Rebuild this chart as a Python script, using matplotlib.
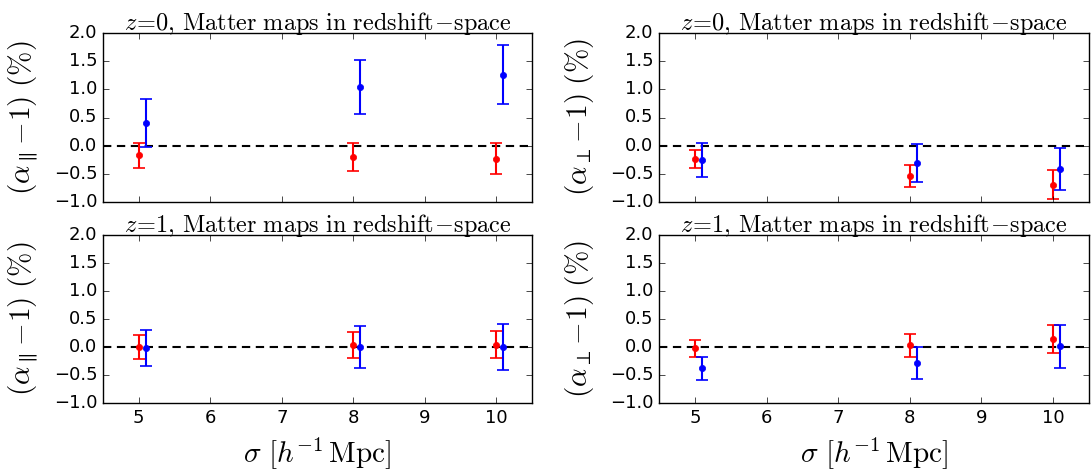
import numpy as np
import matplotlib
matplotlib.use('Agg')
import matplotlib.pyplot as plt

plt.style.use('classic')
plt.rcParams['mathtext.fontset'] = 'cm'
plt.rcParams['figure.facecolor'] = 'white'

sigma = np.array([5, 8, 10])
offset = 0.1

# top-left: z=0, alpha_par
par0_red = [-0.17, -0.20, -0.23]
par0_red_err = [0.22, 0.25, 0.27]
par0_blue = [0.40, 1.04, 1.26]
par0_blue_err = [0.43, 0.485, 0.52]

# top-right: z=0, alpha_perp
perp0_red = [-0.24, -0.54, -0.69]
perp0_red_err = [0.155, 0.20, 0.25]
perp0_blue = [-0.25, -0.31, -0.41]
perp0_blue_err = [0.30, 0.34, 0.37]

# bottom-left: z=1, alpha_par
par1_red = [0.0, 0.04, 0.04]
par1_red_err = [0.21, 0.23, 0.245]
par1_blue = [-0.02, 0.0, 0.0]
par1_blue_err = [0.32, 0.37, 0.41]

# bottom-right: z=1, alpha_perp
perp1_red = [-0.02, 0.03, 0.14]
perp1_red_err = [0.15, 0.20, 0.25]
perp1_blue = [-0.38, -0.28, 0.01]
perp1_blue_err = [0.205, 0.285, 0.385]

titles = [r'$z\!=\!0,\,\mathrm{Matter\ maps\ in\ redshift}\!-\!\mathrm{space}$',
          r'$z\!=\!1,\,\mathrm{Matter\ maps\ in\ redshift}\!-\!\mathrm{space}$']
ylab_par = r'$(\alpha_{\parallel}\!-\!1)\ (\%)$'
ylab_perp = r'$(\alpha_{\perp}\!-\!1)\ (\%)$'
xlab = r'$\sigma\ [h^{-1}\,\mathrm{Mpc}]$'

fig = plt.figure(figsize=(10.91, 4.70), dpi=100)
W, H = 1091., 470.
rects = {
    (0, 0): [103/W, 1-202/H, 429/W, 169/H],
    (0, 1): [659/W, 1-202/H, 430/W, 169/H],
    (1, 0): [103/W, 1-403/H, 429/W, 168/H],
    (1, 1): [659/W, 1-403/H, 430/W, 168/H],
}
panels = {
    (0, 0): (par0_red, par0_red_err, par0_blue, par0_blue_err, ylab_par),
    (0, 1): (perp0_red, perp0_red_err, perp0_blue, perp0_blue_err, ylab_perp),
    (1, 0): (par1_red, par1_red_err, par1_blue, par1_blue_err, ylab_par),
    (1, 1): (perp1_red, perp1_red_err, perp1_blue, perp1_blue_err, ylab_perp),
}

for (r, c), rect in rects.items():
    ax = fig.add_axes(rect)
    red, red_err, blue, blue_err, ylab = panels[(r, c)]
    ax.axhline(0, color='k', ls='--', lw=1.5, dashes=(6, 4))
    ax.errorbar(sigma, red, yerr=red_err, fmt='o', color='r', mec='r', ms=4.5,
                capsize=4, elinewidth=1.5, capthick=1.2)
    ax.errorbar(sigma + offset, blue, yerr=blue_err, fmt='o', color='b', mec='b', ms=4.5,
                capsize=4, elinewidth=1.5, capthick=1.2)
    ax.set_xlim(4.5, 10.5)
    ax.set_ylim(-1.0, 2.0)
    ax.set_yticks(np.arange(-1.0, 2.01, 0.5))
    ax.set_xticks([5, 6, 7, 8, 9, 10])
    ax.tick_params(labelsize=13)
    ax.set_title(titles[r], fontsize=17.5, pad=2)
    ax.set_ylabel(ylab, fontsize=21, labelpad=10)
    if r == 1:
        ax.set_xlabel(xlab, fontsize=21, labelpad=6)
    else:
        ax.set_xticklabels([])

fig.savefig('out.png', dpi=100)
